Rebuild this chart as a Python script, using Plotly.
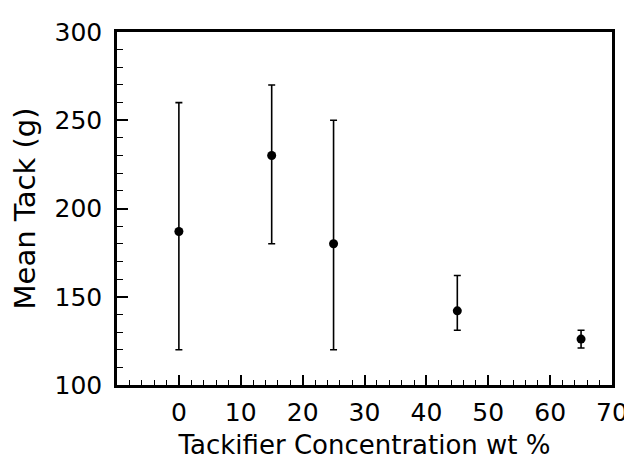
import plotly.graph_objects as go

concentration = [0, 15, 25, 45, 65]
mean_tack = [187, 230, 180, 142, 126]
err_upper = [260, 270, 250, 162, 131]
err_lower = [120, 180, 120, 131, 121]

plus = [u - m for u, m in zip(err_upper, mean_tack)]
minus = [m - l for m, l in zip(mean_tack, err_lower)]

font_family = "DejaVu Sans"

fig = go.Figure(
    go.Scatter(
        x=concentration,
        y=mean_tack,
        mode="markers",
        marker=dict(color="black", size=9, symbol="circle"),
        error_y=dict(
            type="data",
            symmetric=False,
            array=plus,
            arrayminus=minus,
            color="black",
            thickness=1.6,
            width=3.5,
        ),
        showlegend=False,
    )
)

fig.update_layout(
    width=624,
    height=454,
    margin=dict(l=109, r=20, t=24, b=77),
    paper_bgcolor="white",
    plot_bgcolor="white",
    font=dict(family=font_family, color="black", size=22),
)

fig.update_xaxes(
    range=[-10, 70],
    tickvals=[0, 10, 20, 30, 40, 50, 60, 70],
    ticks="inside",
    ticklen=10,
    tickwidth=1.5,
    tickcolor="black",
    showline=True,
    linecolor="black",
    linewidth=2.5,
    mirror=True,
    showgrid=False,
    zeroline=False,
    automargin=False,
    tickfont=dict(size=25),
    ticklabelstandoff=3,
    ticklabeloverflow="allow",
    minor=dict(dtick=2, tick0=0, ticks="inside", ticklen=5, tickwidth=1.2, tickcolor="black", showgrid=False),
    title=dict(text="Tackifier Concentration wt %", font=dict(size=26), standoff=11),
)

fig.update_yaxes(
    range=[100, 300],
    dtick=50,
    ticks="inside",
    ticklen=11,
    tickwidth=1.5,
    tickcolor="black",
    showline=True,
    linecolor="black",
    linewidth=2.5,
    mirror=True,
    showgrid=False,
    zeroline=False,
    automargin=False,
    tickfont=dict(size=25),
    ticklabelstandoff=7,
    ticklabeloverflow="allow",
    minor=dict(dtick=10, ticks="inside", ticklen=6, tickwidth=1.2, tickcolor="black", showgrid=False),
    title=dict(text="Mean Tack (g)", font=dict(size=29), standoff=14),
)

fig.write_html("out.html")
